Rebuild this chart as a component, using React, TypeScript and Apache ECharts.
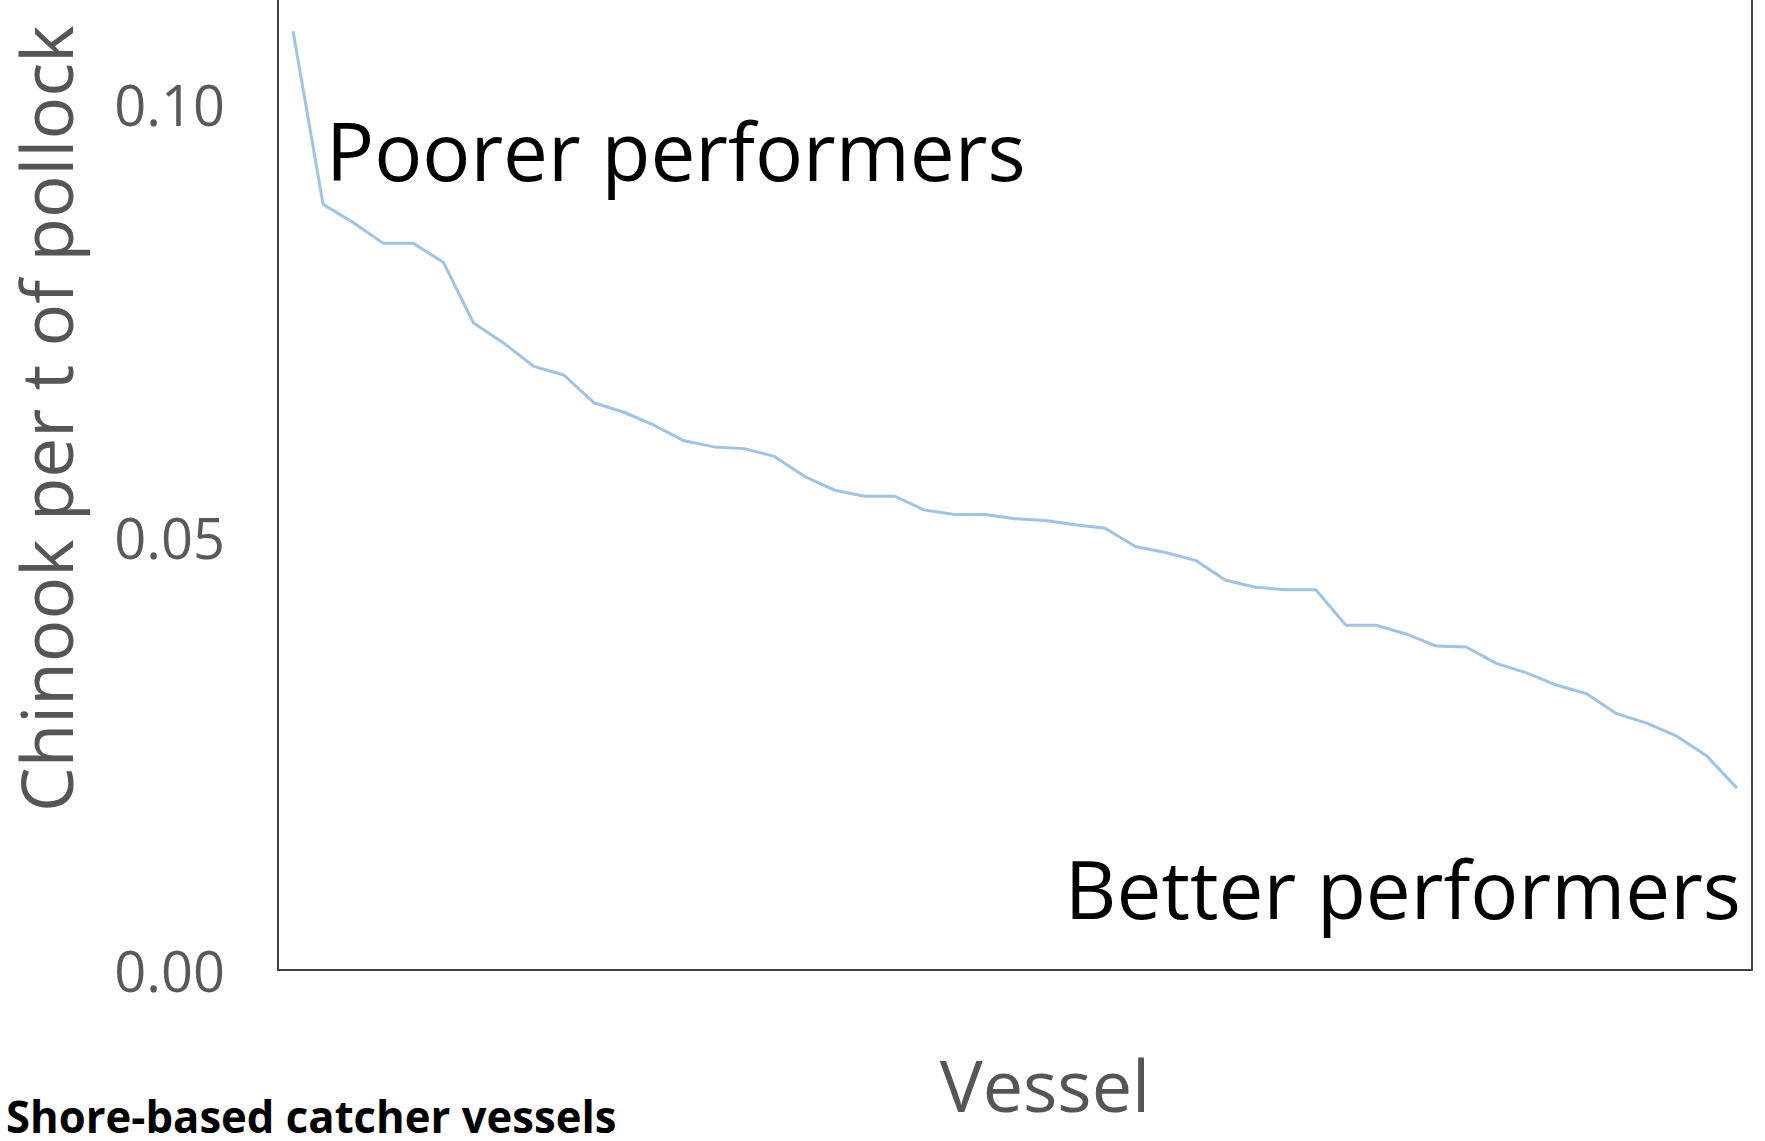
import React, { useEffect, useRef } from "react";
import * as echarts from "echarts";

const vessels: string[] = Array.from({ length: 49 }, (_, i) => `Vessel ${i + 1}`);
const chinookPerTon: number[] = [
  0.1084, 0.0884, 0.0863, 0.0839, 0.0839, 0.0817, 0.0747, 0.0724, 0.0697, 0.0687,
  0.0655, 0.0644, 0.0629, 0.0611, 0.0604, 0.0602, 0.0593, 0.0570, 0.0554, 0.0547,
  0.0547, 0.0531, 0.0526, 0.0526, 0.0521, 0.0519, 0.0514, 0.0510, 0.0489, 0.0482,
  0.0473, 0.0450, 0.0442, 0.0439, 0.0439, 0.0398, 0.0398, 0.0388, 0.0374, 0.0373,
  0.0354, 0.0343, 0.0329, 0.0319, 0.0296, 0.0285, 0.0270, 0.0247, 0.0210,
];
const yTicks: number[] = [0, 0.05, 0.1];

const FONT = '"Open Sans", "Noto Sans", sans-serif';

export default function App() {
  const ref = useRef<HTMLDivElement>(null);
  useEffect(() => {
    if (!ref.current) return;
    const chart = echarts.init(ref.current, null, { renderer: "svg" });
    const axisLineStyle = { color: "#404040", width: 2 };
    chart.setOption({
      animation: false,
      backgroundColor: "#ffffff",
      grid: { left: 278, right: 13, top: 0, bottom: 171, containLabel: false },
      xAxis: {
        type: "category",
        data: vessels,
        boundaryGap: true,
        axisLine: { show: true, lineStyle: axisLineStyle },
        axisTick: { show: false },
        axisLabel: { show: false },
        splitLine: { show: false },
      },
      yAxis: [
        {
          type: "value",
          min: 0,
          max: 0.112,
          interval: 0.05,
          axisLine: { show: true, lineStyle: axisLineStyle },
          axisTick: { show: false },
          splitLine: { show: false },
          axisLabel: {
            show: true,
            margin: 53,
            fontSize: 56,
            fontFamily: FONT,
            color: "#595959",
            verticalAlign: "middle",
            padding: [8, 0, 0, 0],
            showMaxLabel: false,
            formatter: (v: number) =>
              yTicks.some((t) => Math.abs(t - v) < 1e-9) ? v.toFixed(2) : "",
          },
        },
        {
          type: "value",
          position: "right",
          min: 0,
          max: 0.112,
          axisLine: { show: true, onZero: false, lineStyle: axisLineStyle },
          axisTick: { show: false },
          axisLabel: { show: false },
          splitLine: { show: false },
        },
      ],
      series: [
        {
          type: "line",
          data: chinookPerTon,
          yAxisIndex: 0,
          showSymbol: false,
          symbol: "none",
          lineStyle: { color: "#9fc3e7", width: 3 },
          itemStyle: { color: "#9fc3e7" },
        },
      ],
      graphic: [
        {
          type: "text",
          x: 45,
          y: 812,
          rotation: Math.PI / 2,
          style: {
            text: "Chinook per t of pollock",
            fontSize: 71,
            lineHeight: 72,
            fontFamily: FONT,
            fill: "#555555",
            align: "left",
            verticalAlign: "middle",
          },
        },
        {
          type: "text",
          x: 1045,
          y: 1084,
          style: {
            text: "Vessel",
            fontSize: 72,
            fontFamily: FONT,
            fill: "#555555",
            align: "center",
            verticalAlign: "middle",
          },
        },
        {
          type: "text",
          x: 326,
          y: 149,
          style: {
            text: "Poorer performers",
            fontSize: 80,
            fontFamily: FONT,
            fill: "#000000",
            align: "left",
            verticalAlign: "middle",
          },
        },
        {
          type: "text",
          x: 1741,
          y: 887,
          style: {
            text: "Better performers",
            fontSize: 80,
            fontFamily: FONT,
            fill: "#000000",
            align: "right",
            verticalAlign: "middle",
          },
        },
        {
          type: "text",
          x: 6,
          y: 1116,
          scaleX: 0.97,
          style: {
            text: "Shore-based catcher vessels",
            fontSize: 45,
            lineHeight: 40,
            fontWeight: "bold",
            fontFamily: FONT,
            fill: "#000000",
            align: "left",
            verticalAlign: "middle",
          },
        },
      ],
    });
    return () => chart.dispose();
  }, []);
  return (
    <div
      ref={ref}
      style={{ position: "fixed", left: 0, top: 0, width: 1765, height: 1141, background: "#fff" }}
    />
  );
}
